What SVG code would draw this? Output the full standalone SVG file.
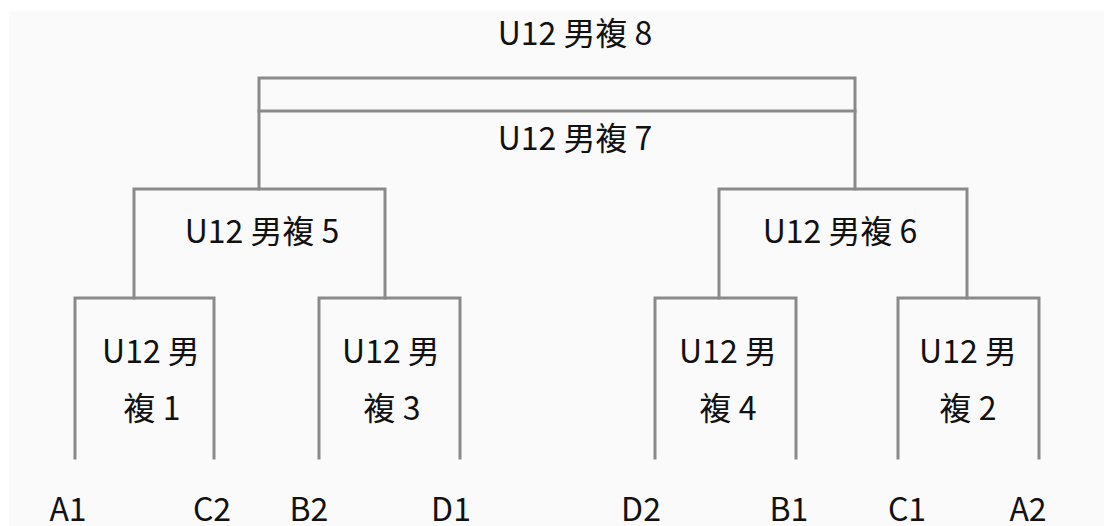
<svg xmlns="http://www.w3.org/2000/svg" width="1104" height="526" viewBox="0 0 1104 526">
<style>
.ln{stroke:#8a8a8a;stroke-width:3;fill:none;stroke-linecap:square}
.t{font-family:"Noto Sans CJK TC","Noto Sans",sans-serif;font-size:32px;fill:#111;text-anchor:middle}
</style>
<rect x="0" y="0" width="1104" height="526" fill="#ffffff"/>
<rect x="9" y="11" width="1095" height="515" fill="#fafafa"/>
<g id="connectors">
<path class="ln" d="M259 189 V78 H855 V189"/>
<path class="ln" d="M259 111 H855"/>
<path class="ln" d="M134 298 V189 H385 V298"/>
<path class="ln" d="M719 298 V189 H967 V298"/>
<path class="ln" d="M75 458 V298 H214 V458"/>
<path class="ln" d="M319 458 V298 H460 V458"/>
<path class="ln" d="M655 458 V298 H796 V458"/>
<path class="ln" d="M898 458 V298 H1039 V458"/>
</g>
<g id="m8"><text class="t" x="575" y="45">U12 男複 8</text></g>
<g id="m7"><text class="t" x="575" y="150">U12 男複 7</text></g>
<g id="m5"><text class="t" x="262" y="243">U12 男複 5</text></g>
<g id="m6"><text class="t" x="840" y="243">U12 男複 6</text></g>
<g id="m1"><text class="t" x="151" y="363">U12 男</text><text class="t" x="152" y="420">複 1</text></g>
<g id="m3"><text class="t" x="391" y="363">U12 男</text><text class="t" x="392" y="420">複 3</text></g>
<g id="m4"><text class="t" x="728" y="363">U12 男</text><text class="t" x="728" y="420">複 4</text></g>
<g id="m2"><text class="t" x="968" y="363">U12 男</text><text class="t" x="968" y="420">複 2</text></g>
<g id="teams">
<text class="t" x="68" y="521">A1</text>
<text class="t" x="212" y="521">C2</text>
<text class="t" x="309" y="521">B2</text>
<text class="t" x="451" y="521">D1</text>
<text class="t" x="641" y="521">D2</text>
<text class="t" x="789" y="521">B1</text>
<text class="t" x="907" y="521">C1</text>
<text class="t" x="1028" y="521">A2</text>
</g>
</svg>
